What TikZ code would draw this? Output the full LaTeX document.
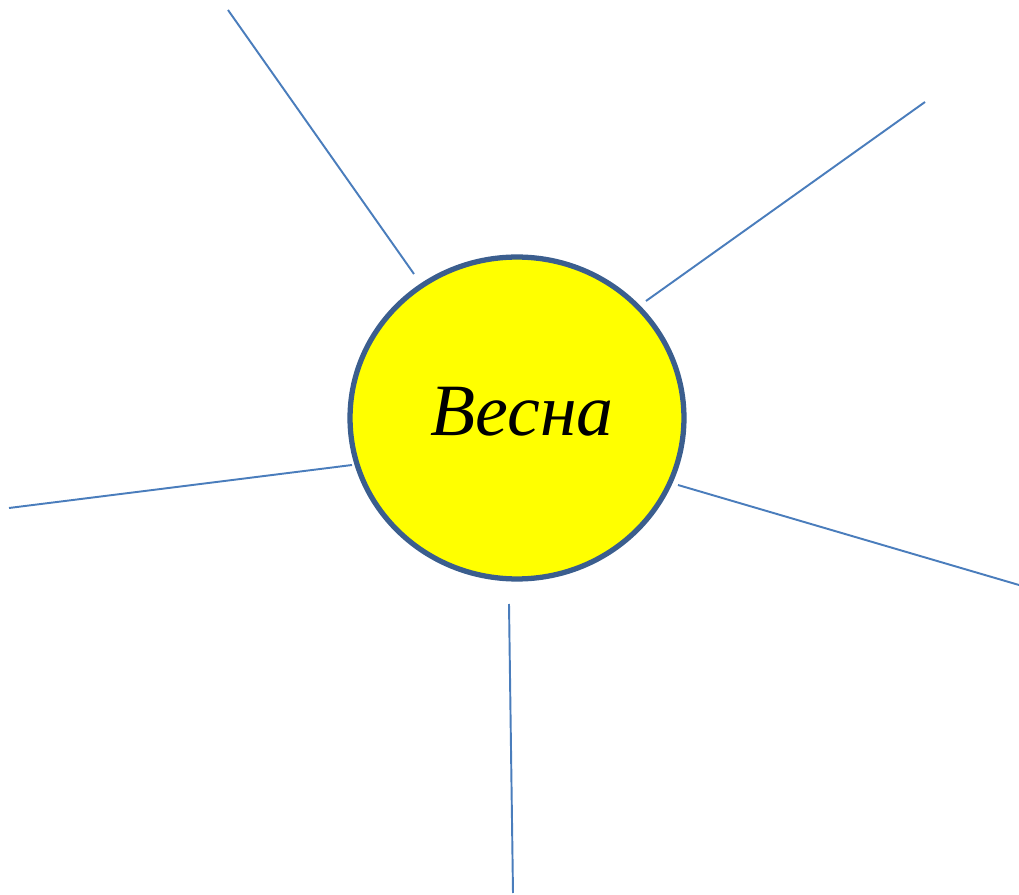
\documentclass[tikz,border=0pt]{standalone}
\usepackage{fontspec}
\setmainfont{Liberation Serif}
\usetikzlibrary{positioning, shapes.geometric}
\definecolor{sunfill}{HTML}{FFFF00}
\definecolor{sunrim}{HTML}{3B5E8E}
\definecolor{raycol}{HTML}{4A7DBC}

\begin{document}
\begin{tikzpicture}[x=0.02cm, y=-0.02cm,
        sun/.style={ellipse, draw=sunrim, line width=3pt, fill=sunfill, inner sep=0pt,
                    minimum width=6.68cm, minimum height=6.44cm,
                    font=\fontsize{42}{46}\selectfont\itshape},
        ray/.style={draw=raycol, line width=1.1pt}]
  \useasboundingbox (0,0) rectangle (1019,895);
  \node[sun] (spring) at (517,418) {\hspace*{0.2cm}\raisebox{0.25cm}{Весна}};
  % free ends of the rays
  \coordinate (r1o) at (228,10);   \coordinate (r1i) at (414,274);
  \coordinate (r2o) at (925,102);  \coordinate (r2i) at (646,301);
  \coordinate (r3o) at (9,508);    \coordinate (r3i) at (352,465);
  \coordinate (r4o) at (1019,585); \coordinate (r4i) at (678,485);
  \coordinate (r5o) at (513,893);  \coordinate (r5i) at (509,604);
  \foreach \r in {1,...,5}
    \draw[ray] (r\r o) -- (r\r i);
\end{tikzpicture}
\end{document}
